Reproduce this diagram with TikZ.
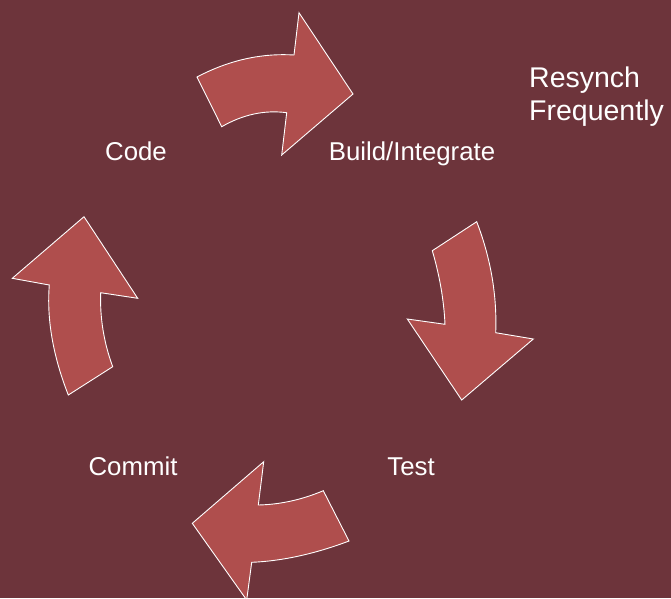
\documentclass[tikz,border=0pt]{standalone}
\usepackage{fontspec}
\setmainfont{Liberation Sans}
\definecolor{bgwine}{RGB}{109,52,59}
\definecolor{arrowred}{RGB}{175,78,77}
\begin{document}
\begin{tikzpicture}[x=1pt,y=-1pt,
  cyclearrow/.style={fill=arrowred,draw=white,line width=0.9pt,line join=miter},
  stagelabel/.style={text=white,font=\fontsize{25.8}{30}\selectfont,inner sep=0pt,anchor=base},
  notelabel/.style={text=white,font=\fontsize{28.5}{33}\selectfont,inner sep=0pt,anchor=base west,align=left}]
  % page and background
  \fill[bgwine] (0,0) rectangle (671,598);
  \useasboundingbox (0,0) rectangle (671,598);

  % Code -> Build/Integrate
  \draw[cyclearrow] (197,77) .. controls (228.7,60.3) and (261,53) .. (294,55)
    -- (299,12.7) -- (353,94) -- (281.7,155) -- (286.7,112.7)
    .. controls (264.8,109.8) and (243.1,114.4) .. (221.7,126.7) -- cycle;

  % Build/Integrate -> Test
  \draw[cyclearrow] (476.7,221.7) -- (432.3,250.7)
    .. controls (439.7,275.9) and (443.9,300.4) .. (445,324.3)
    -- (407.3,319) -- (461.7,400) -- (533.3,339) -- (495.7,332.7)
    .. controls (497.1,295.4) and (490.8,258.4) .. (476.7,221.7) -- cycle;

  % Test -> Commit
  \draw[cyclearrow] (323.3,490.7) .. controls (301.9,499.7) and (280.3,504.5) .. (258.3,505)
    -- (263.7,461.7) -- (192.3,523.3) -- (246.7,600) -- (251.7,562.3)
    .. controls (282.3,561) and (314.8,553.9) .. (349,541) -- cycle;

  % Commit -> Code
  \draw[cyclearrow] (68.3,395) .. controls (52.9,355.7) and (46.6,319) .. (49.3,285)
    -- (12.3,278.3) -- (84,216.7) -- (137.7,298.3) -- (100.7,292.7)
    .. controls (99.8,317.8) and (103.8,342.4) .. (112.7,366.7) -- cycle;

  % stage labels
  \node[stagelabel] (code) at (136,160) {Code};
  \node[stagelabel] (build) at (412,160) {Build/Integrate};
  \node[stagelabel] (test) at (411,475) {Test};
  \node[stagelabel] (commit) at (133,475) {Commit};
  % side note (anchored on the baseline of its last line)
  \node[notelabel] (resynch) at (529,120.5) {Resynch\\Frequently};
\end{tikzpicture}
\end{document}
